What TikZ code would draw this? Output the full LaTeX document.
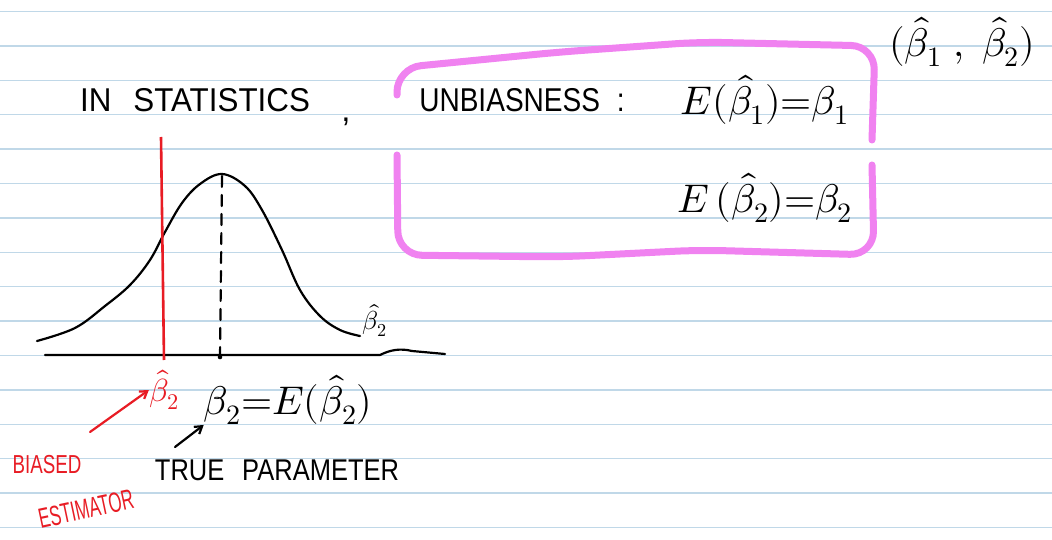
\documentclass[tikz,border=0pt]{standalone}
\usepackage{fontspec}
\usepackage{unicode-math}
\setmainfont{Liberation Sans}
\setmathfont{Latin Modern Math}
\usetikzlibrary{arrows.meta}
\definecolor{rulec}{RGB}{192,216,232}
\definecolor{hl}{RGB}{240,130,240}
\definecolor{pen}{RGB}{232,28,36}
\begin{document}
\begin{tikzpicture}[x={(1pt,0)},y={(0,-1pt)},
  hand/.style={font=\fontsize{33}{35}\selectfont, inner sep=0pt},
  mth/.style={font=\fontsize{40}{42}\selectfont, inner sep=0pt},
  ink/.style={line width=2.2pt, line cap=round, line join=round},
  redink/.style={ink, pen},
  tip/.style={-{Straight Barb[length=7pt,width=9pt]}}]
\useasboundingbox (0,0) rectangle (1052,540);
\fill[white] (0,0) rectangle (1052,540);
\foreach \k in {0,...,15} \draw[rulec, line width=1.3pt] (0,{11.5+34.4*\k}) -- (1052,{11.5+34.4*\k});

% highlighted box
\draw[hl, line width=7pt, line cap=round, rounded corners=24pt]
  (397,95) -- (397,68) -- (560,52) -- (700,42) -- (875,46) -- (872,140);
\draw[hl, line width=7pt, line cap=round, rounded corners=24pt]
  (872,165) -- (874,255) -- (700,250) -- (560,257) -- (398,255) -- (397,155);

% texts
\node[hand] (stat) at (195,100) {\scalebox{0.95}[1]{IN\hspace{0.7em}STATISTICS}};
\node[hand] (comma) at (346,122) {,};
\node[hand] (unb) at (522,100) {\scalebox{0.85}[1]{UNBIASNESS\hspace{0.6em}:}};
\node[mth] (e1) at (765,100) {$E(\hat{\beta}_1){=}\beta_1$};
\node[mth] (e2) at (765,198) {$E\,(\hat{\beta}_2){=}\beta_2$};
\node[font=\fontsize{40}{42}\selectfont, inner sep=0pt] (pair) at (962,42) {$(\hat{\beta}_1\;,\;\hat{\beta}_2)$};

% curve and axes
\draw[ink] plot[smooth, tension=0.6] coordinates {(37,341) (75,328) (105,306) (130,285) (150,260) (165,232) (182,203) (200,184) (222,174) (245,186) (262,210) (282,250) (300,290) (320,316) (340,330) (360,336)};
\node[font=\fontsize{26}{28}\selectfont, inner sep=0pt] (bh) at (375,320) {$\hat{\beta}_2$};
\draw[ink] (45,355) -- (380,355) .. controls (390,350) and (400,348) .. (412,351) -- (445,354);
\draw[ink, dash pattern=on 11pt off 8pt] (222,176) -- (220,358);
\fill (220,357) circle (2.3pt);
\draw[pen, line width=2.6pt] (161,137) -- (164,360);

% lower labels
\node[font=\fontsize{32}{34}\selectfont, inner sep=0pt, pen] (rb) at (164,390) {$\hat{\beta}_2$};
\node[mth] (tp) at (288,400) {$\beta_2{=}E(\hat{\beta}_2)$};
\node[hand, font=\fontsize{30}{32}\selectfont] (true) at (277,470) {\scalebox{0.85}[1]{TRUE\hspace{0.7em}PARAMETER}};
\node[hand, pen, font=\fontsize{26}{28}\selectfont] (bias) at (47,465) {\scalebox{0.72}[1]{BIASED}};
\node[hand, pen, font=\fontsize{28}{30}\selectfont, rotate=12] (est) at (86,509) {\scalebox{0.6}[1]{ESTIMATOR}};
\coordinate (rt) at (90,432);
\coordinate (bt) at (175,447);
\draw[redink, tip] (rt) -- (rb.west);
\draw[ink, tip] (bt) -- (tp.south west);
\end{tikzpicture}
\end{document}
